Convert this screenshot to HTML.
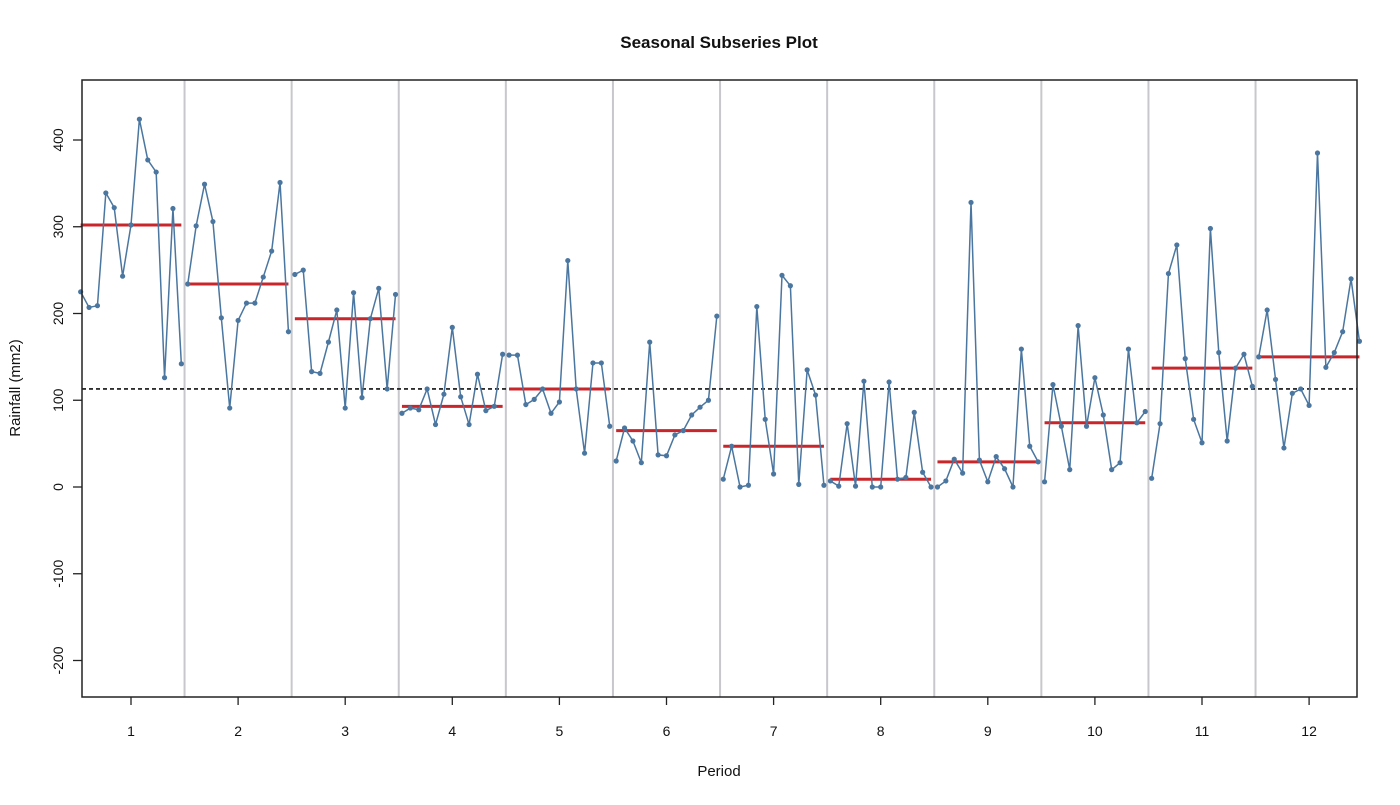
<!DOCTYPE html>
<html><head><meta charset="utf-8"><style>
body{margin:0;background:#fff;}
svg text{font-family:"Liberation Sans",sans-serif;fill:#111;}
</style></head><body>
<svg id="chart" width="1400" height="800">
<text x="719" y="48" text-anchor="middle" font-size="17" font-weight="bold">Seasonal Subseries Plot</text>
<text x="719" y="776" text-anchor="middle" font-size="15">Period</text>
<text transform="translate(20,388) rotate(-90)" text-anchor="middle" font-size="15">Rainfall (mm2)</text>
<g id="grid"></g>
<g id="marks"></g>
<g id="axes"></g>
</svg>
<script>
const periods=[1,2,3,4,5,6,7,8,9,10,11,12];
const yTicks=[-200,-100,0,100,200,300,400];
const p1=[225,207,209,339,322,243,302,424,377,363,126,321,142];
const p2=[234,301,349,306,195,91,192,212,212,242,272,351,179];
const p3=[245,250,133,131,167,204,91,224,103,194,229,113,222];
const p4=[85,91,89,113,72,107,184,104,72,130,88,93,153];
const p5=[152,152,95,101,113,85,98,261,113,39,143,143,70];
const p6=[30,68,53,28,167,37,36,60,65,83,92,100,197];
const p7=[9,47,0,2,208,78,15,244,232,3,135,106,2];
const p8=[7,1,73,1,122,0,0,121,9,11,86,17,0];
const p9=[0,7,32,16,328,31,6,35,21,0,159,47,29];
const p10=[6,118,70,20,186,70,126,83,20,28,159,74,87];
const p11=[10,73,246,279,148,78,51,298,155,53,137,153,116];
const p12=[150,204,124,45,108,113,94,385,138,155,179,240,168];
const series=[p1,p2,p3,p4,p5,p6,p7,p8,p9,p10,p11,p12];
const grandMean=113;

const X=v=>131+(v-1)*107.1;
const Y=v=>487-v*0.8675;
const L=82,R=1357,T=80,B=697;
const NS='http://www.w3.org/2000/svg';
function mk(tag,attrs,parent){const e=document.createElementNS(NS,tag);for(const k in attrs)e.setAttribute(k,attrs[k]);parent.appendChild(e);return e;}
function median(a){const s=[...a].sort((x,y)=>x-y);const m=Math.floor(s.length/2);return s.length%2?s[m]:(s[m-1]+s[m])/2;}
const grid=document.getElementById('grid'),marks=document.getElementById('marks'),axes=document.getElementById('axes');

for(let k=1;k<periods.length;k++){
  const l=mk('line',{x1:X(k+0.5),x2:X(k+0.5),y1:T,y2:B,stroke:'#c8c8cc','stroke-width':2},grid);
  
  
}
const gm=mk('line',{x1:L,x2:R,y1:Y(grandMean),y2:Y(grandMean),stroke:'#111','stroke-width':1.6,'stroke-dasharray':'4,3'},marks);



series.forEach((s,pi)=>{
  const k=periods[pi];
  const n=s.length;
  const xs=s.map((v,i)=>X(k-0.47+i*0.94/(n-1)));
  const mid=median(s);
  const ml=mk('line',{x1:X(k-0.47),x2:X(k+0.47),y1:Y(mid),y2:Y(mid),stroke:'#c8262b','stroke-width':3},marks);
  
  
  const pl=mk('polyline',{points:s.map((v,i)=>xs[i]+','+Y(v)).join(' '),fill:'none',stroke:'#4a76a0','stroke-width':1.5},marks);
  
  
  s.forEach((v,i)=>{
    const c=mk('circle',{cx:xs[i],cy:Y(v),r:2.6,fill:'#4a76a0'},marks);
    
    
  });
});

const box=mk('rect',{x:L,y:T,width:R-L,height:B-T,fill:'none',stroke:'#222','stroke-width':1.5},axes);


periods.forEach(p=>{
  const t=mk('line',{x1:X(p),x2:X(p),y1:B,y2:B+8,stroke:'#222','stroke-width':1.3},axes);
  
  
  const tx=mk('text',{x:X(p),y:736,'text-anchor':'middle','font-size':14},axes);
  tx.textContent=p;
  
  
});
yTicks.forEach(v=>{
  const t=mk('line',{x1:L-9,x2:L,y1:Y(v),y2:Y(v),stroke:'#222','stroke-width':1.3},axes);
  
  
  const tx=mk('text',{transform:'translate(63,'+Y(v)+') rotate(-90)','text-anchor':'middle','font-size':14},axes);
  tx.textContent=v;
  
  
});
</script>
</body></html>
